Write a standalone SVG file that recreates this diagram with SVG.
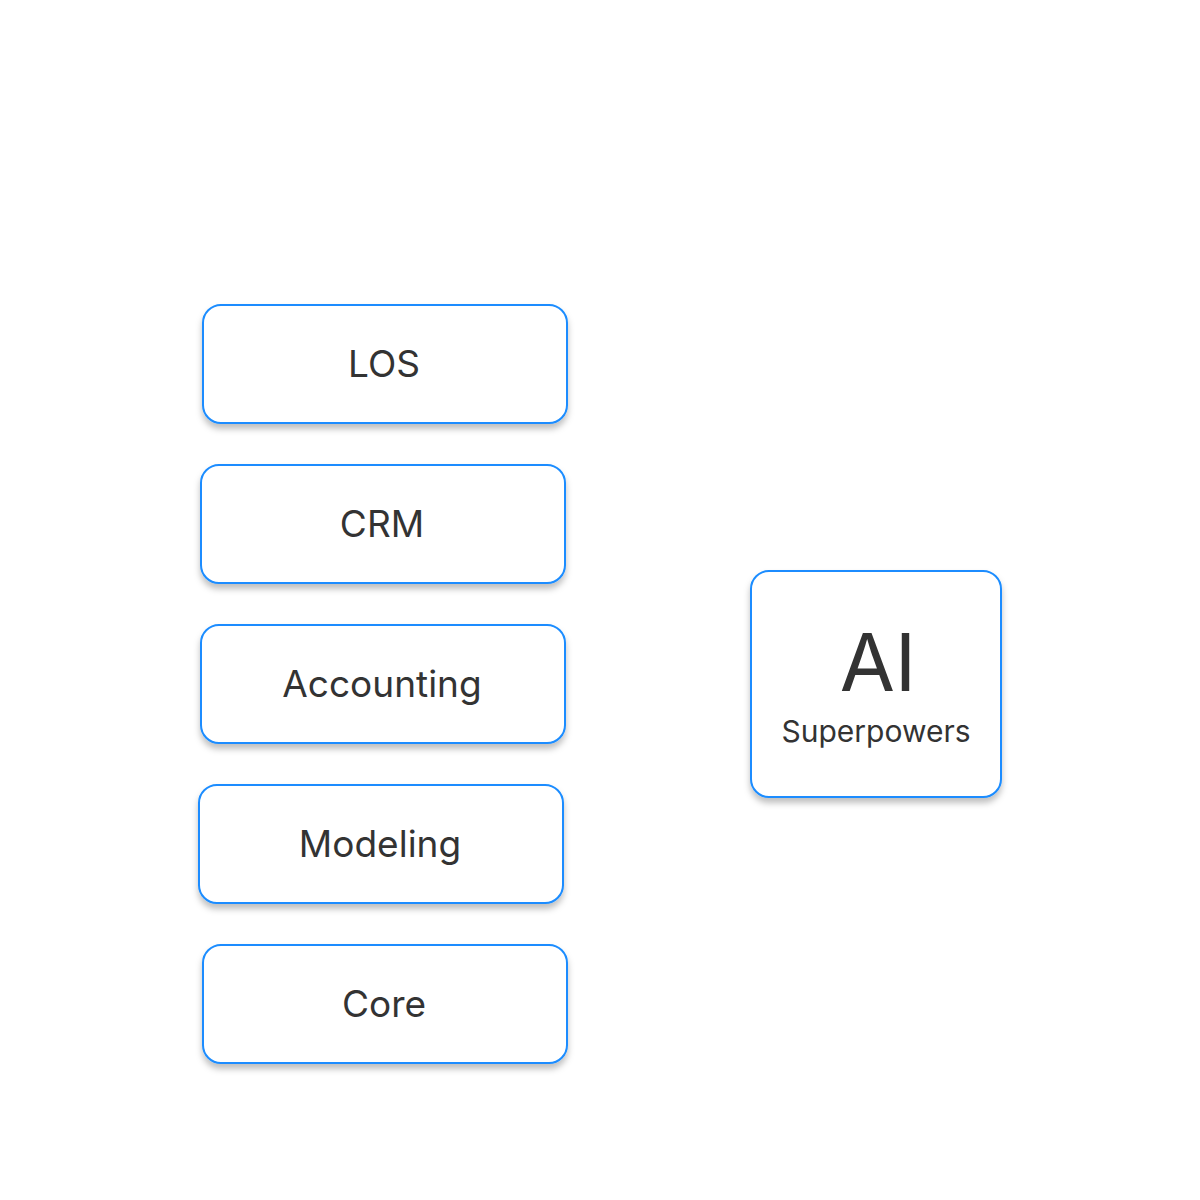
<svg xmlns="http://www.w3.org/2000/svg" width="1200" height="1200" viewBox="0 0 1200 1200">
<defs>
<filter id="sh" x="-10%" y="-10%" width="120%" height="130%"><feDropShadow dx="0" dy="5" stdDeviation="3" flood-color="#000" flood-opacity="0.25"/></filter>
</defs>
<style>
.b{fill:#fff;stroke:#1a8cff;stroke-width:2;filter:url(#sh)}
.t{font-family:Inter,"Liberation Sans",sans-serif;fill:#333;text-anchor:middle}
</style>
<rect width="1200" height="1200" fill="#fff"/>
<text x="600" y="190" class="t" style="fill:#fff;font-size:56px">All in One Super Platform.</text>
<g id="connectors"></g>
<g id="los"><rect class="b" x="203" y="305" width="364" height="118" rx="18"/><text class="t" x="384" y="377" font-size="37">LOS</text></g>
<g id="crm"><rect class="b" x="201" y="465" width="364" height="118" rx="18"/><text class="t" x="382" y="537" font-size="37">CRM</text></g>
<g id="accounting"><rect class="b" x="201" y="625" width="364" height="118" rx="18"/><text class="t" x="382" y="697" font-size="37">Accounting</text></g>
<g id="modeling"><rect class="b" x="199" y="785" width="364" height="118" rx="18"/><text class="t" x="380" y="857" font-size="37">Modeling</text></g>
<g id="core"><rect class="b" x="203" y="945" width="364" height="118" rx="18"/><text class="t" x="384" y="1017" font-size="37">Core</text></g>
<g id="ai"><rect class="b" x="751" y="571" width="250" height="226" rx="18"/><text class="t" x="878" y="691" font-size="80">AI</text><text class="t" x="876" y="742" font-size="30">Superpowers</text></g>
</svg>
